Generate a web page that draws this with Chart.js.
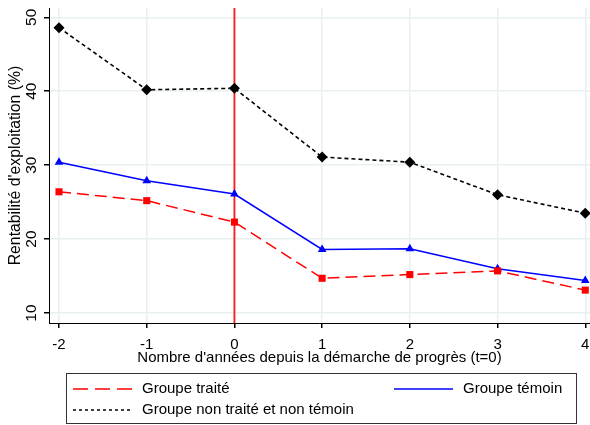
<!DOCTYPE html>
<html lang="fr">
<head>
    <meta charset="UTF-8">
    <title>Rentabilité d'exploitation</title>
    <script src="https://cdn.jsdelivr.net/npm/chart.js"></script>
    <style>
        body { margin: 0; background: #fff; }
        canvas { display: block; }
    </style>
</head>
<body>
    <canvas id="graphique" width="590" height="425"></canvas>
<script>
    // années depuis la démarche de progrès
    const annees = [-2, -1, 0, 1, 2, 3, 4];
    const ticksY = [10, 20, 30, 40, 50];

    // rentabilité d'exploitation (%)
    const groupeTraite = [26.4, 25.2, 22.3, 14.7, 15.2, 15.7, 13.1];
    const groupeTemoin = [30.4, 27.9, 26.1, 18.6, 18.7, 16.0, 14.4];
    const groupeAutres = [48.6, 40.2, 40.4, 31.1, 30.4, 26.0, 23.5];

    const police = 'Liberation Sans, Arial, sans-serif';
    const grille = '#e8f0f1';

    function points(valeurs) {
        return annees.map((a, i) => ({ x: a, y: valeurs[i] }));
    }

    // ligne verticale rouge à t=0, sous les séries
    const ligneT0 = {
        id: 'ligneT0',
        beforeDatasetsDraw(chart) {
            const ctx = chart.ctx;
            const x = chart.scales.x.getPixelForValue(0);
            ctx.save();
            ctx.strokeStyle = '#ff1a1a';
            ctx.lineWidth = 1.8;
            ctx.beginPath();
            ctx.moveTo(x, chart.chartArea.top);
            ctx.lineTo(x, chart.chartArea.bottom);
            ctx.stroke();
            ctx.restore();
        }
    };

    // légende encadrée façon Stata
    const legendeBoite = {
        id: 'legendeBoite',
        afterDraw(chart) {
            const ctx = chart.ctx;
            const ds = chart.data.datasets;
            ctx.save();
            ctx.strokeStyle = '#333';
            ctx.lineWidth = 1;
            ctx.strokeRect(66.5, 373.5, 510, 50);

            const items = [
                { d: ds[0], x: 73, y: 389 },
                { d: ds[1], x: 394, y: 389 },
                { d: ds[2], x: 73, y: 410 }
            ];
            items.forEach(it => {
                ctx.strokeStyle = it.d.borderColor;
                ctx.lineWidth = it.d.borderWidth;
                ctx.setLineDash(it.d.legendDash || []);
                ctx.beginPath();
                ctx.moveTo(it.x, it.y);
                ctx.lineTo(it.x + 59, it.y);
                ctx.stroke();
                ctx.setLineDash([]);
                ctx.fillStyle = '#000';
                ctx.font = '15px ' + police;
                ctx.textBaseline = 'middle';
                ctx.fillText(it.d.label, it.x + 69, it.y);
            });
            ctx.restore();
        }
    };

    const config = {
        type: 'line',
        data: {
            datasets: [
                {
                    label: 'Groupe traité',
                    data: points(groupeTraite),
                    borderColor: '#ff0000',
                    backgroundColor: '#ff0000',
                    borderWidth: 1.5,
                    borderDash: [12, 6],
                    legendDash: [15, 7],
                    pointStyle: 'rect',
                    pointRadius: 5,
                    pointBorderWidth: 0,
                    tension: 0
                },
                {
                    label: 'Groupe témoin',
                    data: points(groupeTemoin),
                    borderColor: '#0000ff',
                    backgroundColor: '#0000ff',
                    borderWidth: 1.5,
                    pointStyle: 'triangle',
                    pointRadius: 5,
                    pointBorderWidth: 0,
                    tension: 0
                },
                {
                    label: 'Groupe non traité et non témoin',
                    data: points(groupeAutres),
                    borderColor: '#000000',
                    backgroundColor: '#000000',
                    borderWidth: 1.6,
                    borderDash: [4, 3],
                    legendDash: [3, 3],
                    pointStyle: 'rectRot',
                    pointRadius: 5.5,
                    pointBorderWidth: 0,
                    tension: 0
                }
            ]
        },
        options: {
            responsive: false,
            animation: false,
            layout: { autoPadding: false, padding: { top: 8, right: 0, bottom: 57, left: 0 } },
            plugins: {
                legend: { display: false },
                tooltip: { enabled: false }
            },
            scales: {
                x: {
                    type: 'linear',
                    min: -2.114,
                    max: 4.054,
                    afterBuildTicks(scale) {
                        scale.ticks = annees.map(v => ({ value: v }));
                    },
                    afterFit(scale) {
                        scale.height = 45;
                        scale.paddingLeft = 0;
                        scale.paddingRight = 0;
                    },
                    grid: { color: grille, lineWidth: 1.5, tickColor: '#000', tickLength: 5 },
                    border: { display: true, color: '#000', width: 1 },
                    ticks: {
                        color: '#000',
                        padding: 8,
                        font: { family: police, size: 15 }
                    },
                    title: {
                        display: true,
                        text: "Nombre d'années depuis la démarche de progrès (t=0)",
                        color: '#000',
                        padding: { top: 0, bottom: 1 },
                        font: { family: police, size: 15 }
                    }
                },
                y: {
                    min: 8.65,
                    max: 51.26,
                    afterBuildTicks(scale) {
                        scale.ticks = ticksY.map(v => ({ value: v }));
                    },
                    afterFit(scale) {
                        scale.width = 49;
                        scale.paddingTop = 0;
                        scale.paddingBottom = 0;
                    },
                    grid: { color: grille, lineWidth: 1.5, tickColor: '#000', tickLength: 5 },
                    border: { display: true, color: '#000', width: 1 },
                    ticks: {
                        color: '#000',
                        padding: 4,
                        minRotation: 90,
                        maxRotation: 90,
                        crossAlign: 'center',
                        font: { family: police, size: 15.5 }
                    },
                    title: {
                        display: true,
                        text: "Rentabilité d'exploitation (%)",
                        color: '#000',
                        padding: { top: 6, bottom: 0 },
                        font: { family: police, size: 15.8 }
                    }
                }
            }
        },
        plugins: [ligneT0, legendeBoite]
    };

    new Chart(document.getElementById('graphique'), config);
</script>
</body>
</html>
